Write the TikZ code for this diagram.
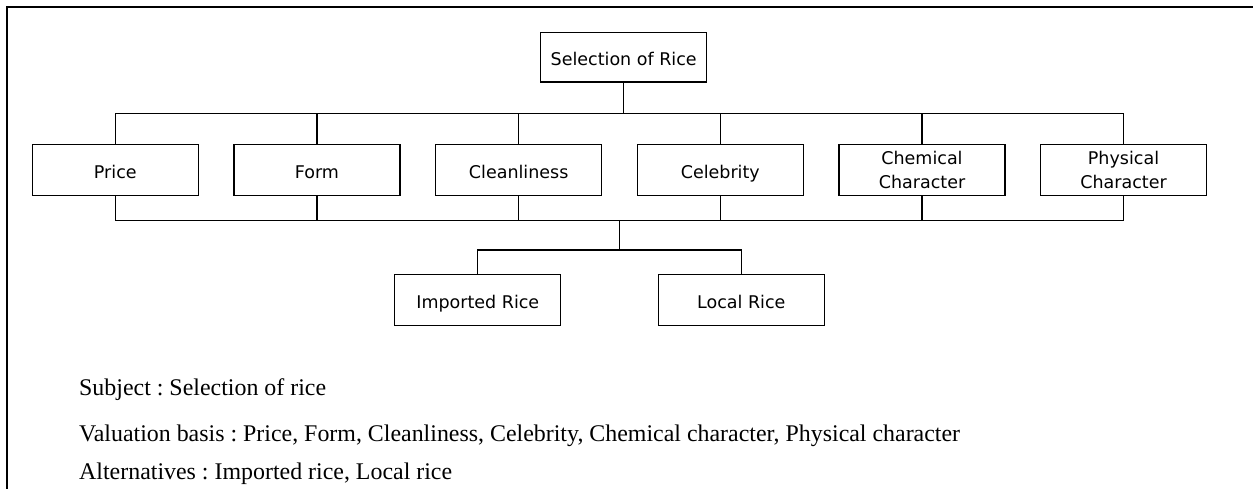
\documentclass[tikz,border=0pt]{standalone}
\usepackage{fontspec}
\setmainfont{Liberation Serif}
\newfontfamily\boxfont{DejaVu Sans}
\begin{document}
\frenchspacing
\begin{tikzpicture}[x=1pt,y=-1pt,
  box/.style={draw, line width=1.1pt, minimum width=166pt, minimum height=50.5pt,
    inner sep=0pt, align=center, font=\boxfont\fontsize{17.5}{25}\selectfont},
  oneline/.style={text height=16.5pt, text depth=0pt},
  link/.style={line width=1.1pt},
  bus/.style={line width=1.5pt},
  note/.style={anchor=base west, inner sep=0pt, font=\fontsize{23.9}{28}\selectfont}]
\useasboundingbox (0,0) rectangle (1253,488);
\fill[white] (0,0) rectangle (1253,488);
% open frame along the top and left edges
\draw[line width=2.2pt] (7,495) -- (7,7) -- (1260,7);

% goal
\node[box, oneline, minimum height=49.3pt] (sel) at (623.7,57.3) {Selection of Rice};

% criteria
\node[box, oneline] (price) at (115.3,170) {Price};
\node[box, oneline] (form)  at (317,170)   {Form};
\node[box, oneline] (clean) at (518.7,170) {Cleanliness};
\node[box, oneline] (celeb) at (720.3,170) {Celebrity};
\node[box] (chem)  at (922,170)   {Chemical\\[-1.5pt]Character};
\node[box] (phys)  at (1123.5,170){Physical\\[-1.5pt]Character};

% alternatives
\node[box, oneline] (imp) at (477.8,300) {Imported Rice};
\node[box, oneline] (loc) at (741.3,300) {Local Rice};

% bus levels
\coordinate (tb) at (0,113.3);
\coordinate (bb) at (0,220.7);
\coordinate (lb) at (0,250);
\coordinate (stem) at (619.3,220.7);

% goal to criteria
\draw[bus] (sel.south) -- (sel.south |- tb);
\draw[bus] (price.north |- tb) -- (phys.north |- tb);
\foreach \n in {price,form,clean,celeb,chem,phys}
  \draw[link] (\n.north) -- (\n.north |- tb);

% criteria to alternatives
\draw[bus] (price.south |- bb) -- (phys.south |- bb);
\foreach \n in {price,form,clean,celeb,chem,phys}
  \draw[link] (\n.south) -- (\n.south |- bb);
\draw[link] (stem) -- (stem |- lb);
\draw[link] (imp.north) -- (imp.north |- lb) -- (loc.north |- lb) -- (loc.north);

% legend
\node[note] (t1) at (79,395) {Subject : Selection of rice};
\node[note] (t2) at (79,441) {Valuation basis : Price, Form, Cleanliness, Celebrity, Chemical character, Physical character};
\node[note] (t3) at (79,479) {Alternatives : Imported rice, Local rice};
\end{tikzpicture}
\end{document}
